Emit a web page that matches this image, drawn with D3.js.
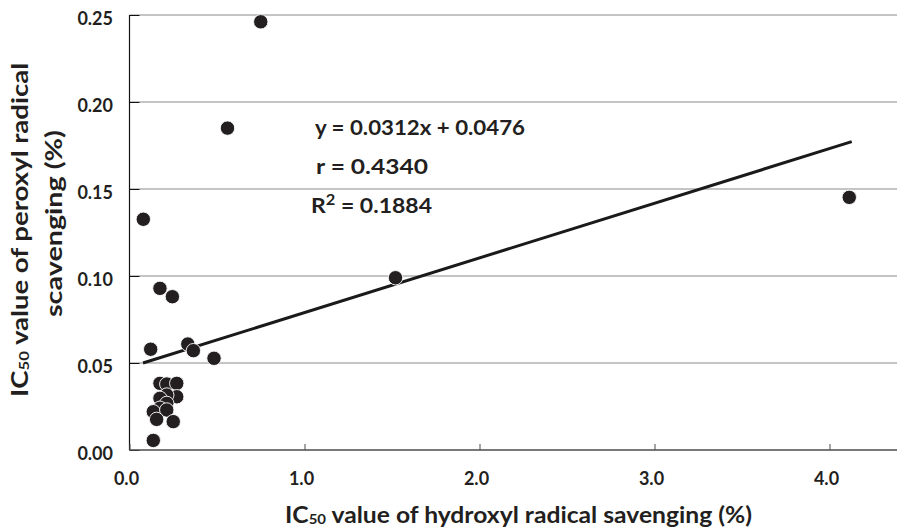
<!DOCTYPE html>
<html><head><meta charset="utf-8">
<script src="https://cdn.jsdelivr.net/npm/d3@7"></script>
<style>body{margin:0;background:#fff;overflow:hidden}</style>
</head><body><svg id="c" width="897" height="529"></svg>
<script>
// IC50 of hydroxyl radical scavenging (%) — x
const hydroxyl = [0.174, 0.213, 0.270, 0.270, 0.213, 0.174, 0.213, 0.174, 0.136, 0.213, 0.155, 0.250, 0.136,
                  0.079, 0.174, 0.245, 0.121, 0.333, 0.365, 0.483, 1.52, 4.113, 0.56, 0.750];
// IC50 of peroxyl radical scavenging (%) — y
const peroxyl  = [0.0383, 0.0379, 0.0383, 0.0306, 0.0316, 0.0297, 0.0268, 0.0240, 0.0220, 0.0230, 0.0176, 0.0163, 0.0055,
                  0.1326, 0.0929, 0.0881, 0.0579, 0.0609, 0.0571, 0.0527, 0.0990, 0.1452, 0.1850, 0.2461];
const xTicks = [0, 1, 2, 3, 4];
const xTickLabels = ["0.0", "1.0", "2.0", "3.0", "4.0"];
const yTicks = [0, 0.05, 0.10, 0.15, 0.20, 0.25];
const yTickLabels = ["0.00", "0.05", "0.10", "0.15", "0.20", "0.25"];
const trendX = [0.077, 4.127];
const trendY = [0.0500, 0.1772];
const eqText = "y = 0.0312x + 0.0476";
const rText = "r = 0.4340";
const r2Text = " = 0.1884";

const svg = d3.select("#c");
const FONT = "Lato, 'Open Sans', sans-serif";
const x = d3.scaleLinear().domain([0, 4.4]).range([129.5, 129.5 + 4.4 * 175]);
const y = d3.scaleLinear().domain([0, 0.25]).range([450, 15]);

// gridlines
svg.append("g").selectAll("line").data(yTicks.filter(d => d > 0)).join("line")
  .attr("x1", x(0)).attr("x2", 897).attr("y1", d => y(d)).attr("y2", d => y(d))
  .attr("stroke", "#8a8a8a").attr("stroke-width", 1);

// y axis
const yAxis = svg.append("g").attr("transform", `translate(${x(0)},0)`)
  .call(d3.axisRight(y).tickValues(yTicks).tickSize(10).tickFormat(""));
yAxis.select(".domain").attr("stroke", "#111").attr("stroke-width", 1.2).attr("d", `M0,${y(0.25)}V${y(0)}`);
yAxis.selectAll(".tick line").attr("stroke", "#111");

svg.append("g").selectAll("text").data(yTicks).join("text")
  .attr("x", 113).attr("y", d => y(d) + 10)
  .attr("text-anchor", "end").attr("font-family", FONT).attr("font-weight", 700)
  .attr("font-size", 18).attr("fill", "#231f20")
  .text((d, i) => yTickLabels[i]);

// x axis
const xAxis = svg.append("g").attr("transform", `translate(0,${y(0)})`)
  .call(d3.axisTop(x).tickValues(xTicks).tickSize(6).tickFormat(""));
xAxis.select(".domain").attr("stroke", "#4d4d4d").attr("stroke-width", 1.6).attr("d", `M${x(0)},0H897`);
xAxis.selectAll(".tick line").attr("stroke", "#4d4d4d");

svg.append("g").selectAll("text").data(xTicks).join("text")
  .attr("x", d => x(d) - 3).attr("y", 485)
  .attr("text-anchor", "middle").attr("font-family", FONT).attr("font-weight", 700)
  .attr("font-size", 18).attr("fill", "#231f20")
  .text((d, i) => xTickLabels[i]);

// trend line
svg.append("path")
  .datum(trendX.map((v, i) => [v, trendY[i]]))
  .attr("d", d3.line().x(d => x(d[0])).y(d => y(d[1])))
  .attr("fill", "none").attr("stroke", "#1a1a1a").attr("stroke-width", 3);

// points
svg.append("g").selectAll("circle").data(hydroxyl.map((v, i) => [v, peroxyl[i]])).join("circle")
  .attr("cx", d => x(d[0])).attr("cy", d => y(d[1])).attr("r", 7.2)
  .attr("fill", "#231f20").attr("stroke", "#fff").attr("stroke-width", 0.9);

// annotations
const ann = svg.append("g").attr("font-family", FONT).attr("font-weight", 700)
  .attr("font-size", 21).attr("fill", "#231f20");
ann.append("text").attr("x", 315).attr("y", 135).attr("textLength", 210)
  .attr("lengthAdjust", "spacingAndGlyphs").text(eqText);
ann.append("text").attr("x", 316).attr("y", 174).attr("textLength", 112)
  .attr("lengthAdjust", "spacingAndGlyphs").text(rText);
const r2 = ann.append("text").attr("x", 311).attr("y", 213).attr("textLength", 121)
  .attr("lengthAdjust", "spacingAndGlyphs");
r2.append("tspan").text("R");
r2.append("tspan").attr("font-size", 15).attr("dy", -8).text("2");
r2.append("tspan").attr("dy", 8).text(r2Text);

// axis titles
const t = svg.append("g").attr("font-family", FONT).attr("font-weight", 700)
  .attr("font-size", 23).attr("fill", "#231f20");
const xt = t.append("text").attr("x", 518.5).attr("y", 523).attr("text-anchor", "middle")
  .attr("textLength", 467).attr("lengthAdjust", "spacingAndGlyphs");
xt.append("tspan").text("IC");
xt.append("tspan").attr("font-size", 14).attr("dy", 1).text("50");
xt.append("tspan").attr("dy", -1).text(" value of hydroxyl radical savenging (%)");

const yt1 = t.append("text").attr("transform", "translate(28,230) rotate(-90)")
  .attr("text-anchor", "middle").attr("textLength", 334).attr("lengthAdjust", "spacingAndGlyphs");
yt1.append("tspan").text("IC");
yt1.append("tspan").attr("font-size", 14).attr("dy", 1).text("50");
yt1.append("tspan").attr("dy", -1).text(" value of peroxyl radical");
t.append("text").attr("transform", "translate(61.5,223.5) rotate(-90)")
  .attr("text-anchor", "middle").attr("textLength", 187).attr("lengthAdjust", "spacingAndGlyphs")
  .text("scavenging (%)");
</script></body></html>
